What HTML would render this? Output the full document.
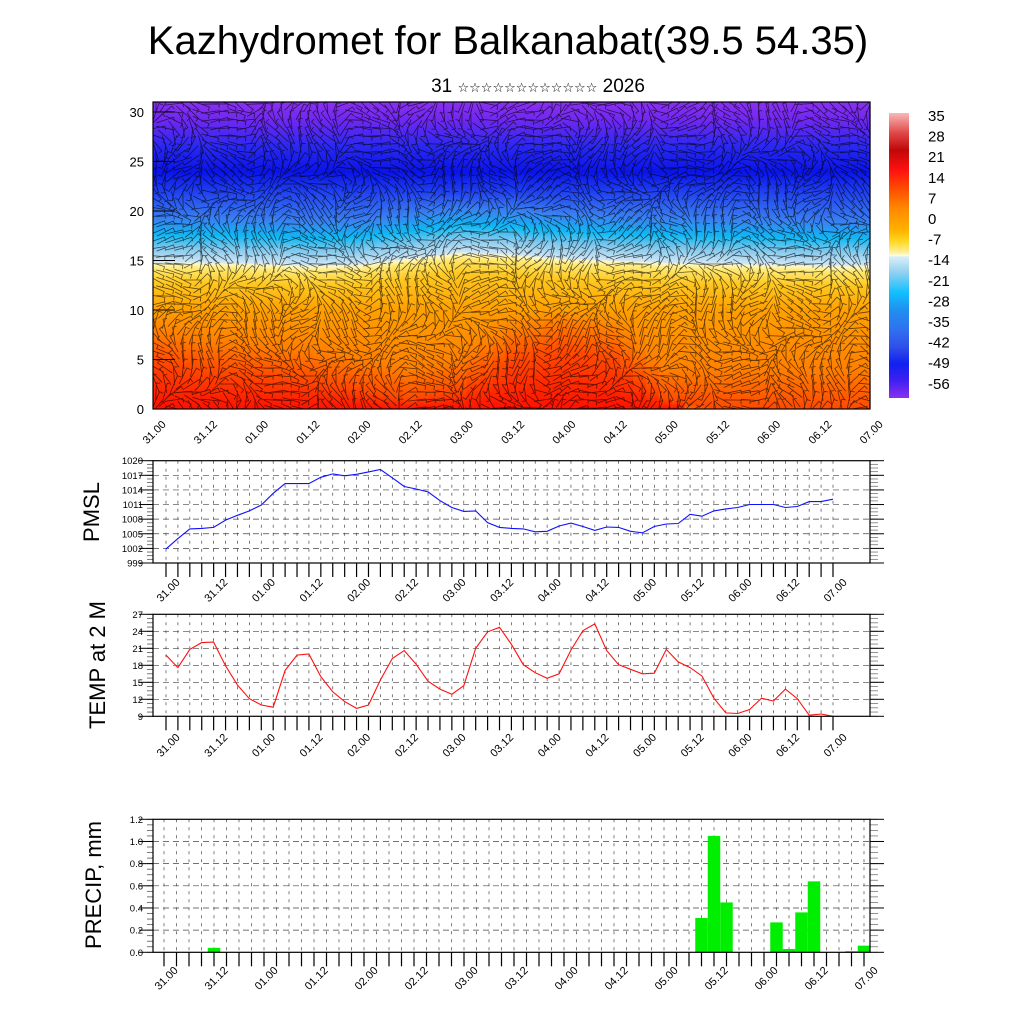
<!DOCTYPE html>
<html><head><meta charset="utf-8"><style>
html,body{margin:0;padding:0;background:#fff;}
svg{display:block;font-family:"Liberation Sans",Arial,sans-serif;}
</style></head><body>
<svg id="c" width="1024" height="1024" viewBox="0 0 1024 1024" xmlns="http://www.w3.org/2000/svg">
<text x="508" y="54" font-size="40" text-anchor="middle">Kazhydromet for Balkanabat(39.5 54.35)</text>
<text x="538" y="92" font-size="19" text-anchor="middle">31 <tspan font-size="13" font-family="DejaVu Sans">☆☆☆☆☆☆☆☆☆☆☆☆</tspan> 2026</text>
<defs>
<clipPath id="fclip"><rect x="153" y="102" width="717" height="307"/></clipPath>
<linearGradient id="cbg" x1="0" y1="0" x2="0" y2="1">
<stop offset="0" stop-color="#f9b8b8"/><stop offset="0.07" stop-color="#e04848"/><stop offset="0.13" stop-color="#c00808"/><stop offset="0.2" stop-color="#ff1010"/><stop offset="0.27" stop-color="#ff5000"/><stop offset="0.34" stop-color="#ff8c00"/><stop offset="0.41" stop-color="#ffb000"/><stop offset="0.45" stop-color="#ffd820"/><stop offset="0.49" stop-color="#fff0a0"/><stop offset="0.5" stop-color="#fffde0"/><stop offset="0.505" stop-color="#d8eef8"/><stop offset="0.56" stop-color="#90d0f0"/><stop offset="0.63" stop-color="#10c0ff"/><stop offset="0.69" stop-color="#2090f0"/><stop offset="0.76" stop-color="#3070f0"/><stop offset="0.82" stop-color="#3050e8"/><stop offset="0.88" stop-color="#1020f0"/><stop offset="0.94" stop-color="#4020f0"/><stop offset="1" stop-color="#8a30f0"/>
</linearGradient>
</defs>
<g id="field"></g>
<rect x="889" y="113" width="20" height="285" fill="url(#cbg)"/>
<g id="cbl" font-size="15"></g>
<g id="g1"></g>
<g id="g2"></g>
<g id="g3"></g>
<text transform="translate(99,512) rotate(-90)" font-size="22" text-anchor="middle">PMSL</text>
<text transform="translate(105,665) rotate(-90)" font-size="22" text-anchor="middle">TEMP at 2 M</text>
<text transform="translate(101,885) rotate(-90)" font-size="22" text-anchor="middle">PRECIP, mm</text>
</svg>
<script>
var timeLabels=["31.00","31.12","01.00","01.12","02.00","02.12","03.00","03.12","04.00","04.12","05.00","05.12","06.00","06.12","07.00"];
var pmslValues=[1001.9,1004,1006,1006.1,1006.3,1007.8,1008.8,1009.7,1010.9,1013.3,1015.3,1015.3,1015.3,1016.6,1017.3,1016.9,1017.2,1017.7,1018.2,1016.5,1014.7,1014.2,1013.6,1011.8,1010.4,1009.6,1009.7,1007.3,1006.3,1006.1,1006.0,1005.4,1005.5,1006.6,1007.2,1006.5,1005.7,1006.4,1006.3,1005.5,1005.2,1006.5,1007.0,1007.1,1009.0,1008.6,1009.7,1010.1,1010.4,1011.0,1011.0,1011.0,1010.4,1010.6,1011.6,1011.6,1012.1];
var tempValues=[19.8,17.6,20.8,22.0,22.1,17.9,14.5,12.1,11.0,10.6,17.1,19.8,20.0,16.0,13.3,11.6,10.4,11.0,15.4,19.2,20.6,18.2,15.2,13.8,12.9,14.4,21.0,23.9,24.7,21.7,18.1,16.7,15.7,16.5,20.7,24.1,25.3,20.6,18.1,17.3,16.5,16.6,20.8,18.6,17.6,16.1,12.2,9.6,9.5,10.2,12.2,11.7,13.8,12.1,9.2,9.4,9.0];
var precipIndex=[4,43,44,45,49,50,51,52,55,56];
var precipValues=[0.04,0.31,1.05,0.45,0.27,0.03,0.36,0.64,0.01,0.06];
var pmslTicks=[999,1002,1005,1008,1011,1014,1017,1020];
var tempTicks=[9,12,15,18,21,24,27];
var precipTicks=[0,0.2,0.4,0.6,0.8,1.0,1.2];
var fieldTicks=[0,5,10,15,20,25,30];
var colorbarLabels=["35","28","21","14","7","0","-7","-14","-21","-28","-35","-42","-49","-56"];
var boundaryAlt=[14.8,14.8,14.7,14.5,14.6,15.2,15.8,15.6,15.2,15,14.8,14.7,14.6,14.5,14.5];
var redTopAlt=[5,4,3.5,3,2,1,2,5,6,5,1,0,0,0,0];

var NS="http://www.w3.org/2000/svg";
function mk(tag,attrs,parent){var e=document.createElementNS(NS,tag);for(var k in attrs)e.setAttribute(k,attrs[k]);parent.appendChild(e);return e;}
var svg=document.getElementById('c');

var FX0=153,FX1=870,FY0=409,FYT=102;
function fy(a){return FY0-a*(FY0-112)/30;}
function fxh(h){return FX0+h*(FX1-FX0)/168;}
var field=document.getElementById('field');
var defs=svg.querySelector('defs');
function interp(arr,h){var p=h/12,i=Math.min(Math.floor(p),arr.length-2),t=p-i;return arr[i]*(1-t)+arr[i+1]*t;}
for(var k=0;k<57;k++){
  var h=k*3,b=interp(boundaryAlt,h),r=interp(redTopAlt,h);
  var stops=[[0,r>0.5?'#ff1000':'#ff6a00'],[Math.max(r,0.1),'#ff4a00'],[Math.max(r+3,4),'#ff8000'],[Math.max(10,r+4),'#ffa000'],[b-2,'#ffc820'],[b-0.6,'#ffe870'],[b-0.1,'#fff8c0'],[b+0.1,'#cfe6f5'],[b+1.5,'#80c8ee'],[b+2.8,'#10b8f4'],[b+4.5,'#3a80f0'],[22,'#2040f0'],[24,'#0a14e8'],[26.5,'#2828f0'],[29.3,'#7028f0'],[31.2,'#8a30f0']];
  var g=mk('linearGradient',{id:'fg'+k,gradientUnits:'userSpaceOnUse',x1:0,y1:FY0,x2:0,y2:FYT},defs);
  var last=-1;
  stops.forEach(function(s){var o=Math.max(s[0]/31.1,last);last=o;mk('stop',{offset:Math.min(o,1),'stop-color':s[1]},g);});
  var x0=Math.max(FX0,fxh(h-1.5)),x1=Math.min(FX1,fxh(h+1.5));
  var rc=mk('rect',{x:x0,y:FYT,width:x1-x0+0.6,height:FY0-FYT,fill:'url(#fg'+k+')'},field);
  
  
}
var bp=[];
for(var gx=156;gx<870;gx+=9){for(var gy=104;gy<409;gy+=8){
  var an=1.4*Math.sin(gx*0.029+gy*0.017)+Math.cos(gy*0.05-gx*0.012)+0.6*Math.sin(gx*0.11);
  var dx=Math.cos(an)*9,dy=Math.sin(an)*9;
  var ex=gx+dx,ey=gy+dy;
  bp.push('M'+(gx-dx).toFixed(1)+' '+(gy-dy).toFixed(1)+'L'+ex.toFixed(1)+' '+ey.toFixed(1)+'l'+(-dy*0.45).toFixed(1)+' '+(dx*0.45).toFixed(1));
}}
var bars=mk('path',{d:bp.join(''),stroke:'#000',fill:'none','stroke-width':0.8,'stroke-opacity':0.62,'clip-path':'url(#fclip)'},field);


var ff=mk('rect',{x:FX0,y:FYT,width:FX1-FX0,height:FY0-FYT,fill:'none',stroke:'#000','stroke-width':1.2},field);


fieldTicks.forEach(function(v){
  var t=mk('text',{x:144,y:fy(v)+5,'font-size':13,'text-anchor':'end'},field);t.textContent=v;
  
  
  mk('line',{x1:FX0,x2:FX0+22,y1:fy(v),y2:fy(v),stroke:'#000'},field);
});
timeLabels.forEach(function(s,i){
  var x=fxh(i*12)+1,y=432;
  var t=mk('text',{x:x,y:y+4,'font-size':11,'text-anchor':'middle',transform:'rotate(-45 '+x+' '+y+')'},field);t.textContent=s;
  
  
});
var cbl=document.getElementById('cbl');
colorbarLabels.forEach(function(s,i){
  var t=mk('text',{x:928,y:121+i*20.6},cbl);t.textContent=s;
  
  
});

function panel(gid,o){
  var g=document.getElementById(gid);
  var X0=153,X1=870;
  function X(h){return o.tx0+h*(o.tx1-o.tx0)/168;}
  function Y(v){return o.yb-(v-o.vmin)*(o.yb-o.yt)/(o.vmax-o.vmin);}
  for(var k=0;k<=56;k++){var x=X(k*3);
    if(x>X0&&x<X1)mk('line',{x1:x,x2:x,y1:o.yt,y2:o.yb,stroke:'#444','stroke-width':0.7,'stroke-dasharray':'3 5'},g);
    mk('line',{x1:x,x2:x,y1:o.yb,y2:o.yb+14,stroke:'#000','stroke-width':1.2},g);
  }
  var mstep=(o.ticks[1]-o.ticks[0])/4;
  for(var v=o.vmin;v<=o.vmax+1e-6;v+=mstep){var y=Y(v);
    mk('line',{x1:X0-6,x2:X0,y1:y,y2:y,stroke:'#555','stroke-width':0.8},g);
    mk('line',{x1:X1,x2:X1+8,y1:y,y2:y,stroke:'#777','stroke-width':0.8},g);
  }
  o.ticks.forEach(function(v,i){var y=Y(v);
    if(i>0&&i<o.ticks.length-1)mk('line',{x1:X0,x2:X1,y1:y,y2:y,stroke:'#444','stroke-width':0.7,'stroke-dasharray':'6 4'},g);
    mk('line',{x1:X0-14,x2:X0,y1:y,y2:y,stroke:'#000'},g);
    mk('line',{x1:X1,x2:X1+14,y1:y,y2:y,stroke:'#000'},g);
    var t=mk('text',{x:X0-10,y:y+3.5,'font-size':o.fs,'text-anchor':'end'},g);t.textContent=o.fmt(v);
    
    
  });
  o.draw(g,X,Y);
  var fr=mk('rect',{x:X0,y:o.yt,width:X1-X0,height:o.yb-o.yt,fill:'none',stroke:'#000','stroke-width':1.2},g);
  
  
  timeLabels.forEach(function(s,i){
    var x=X(i*12)+2,y=o.ly;
    var t=mk('text',{x:x,y:y+4,'font-size':11,'text-anchor':'middle',transform:'rotate(-45 '+x+' '+y+')'},g);t.textContent=s;
    
    
  });
}
panel('g1',{tx0:166,tx1:833,yt:460.7,yb:563,vmin:999,vmax:1020,ticks:pmslTicks,fs:9.5,ly:590,fmt:function(v){return v;},
  draw:function(g,X,Y){var p=pmslValues.map(function(v,i){return X(i*3).toFixed(1)+','+Y(v).toFixed(1);}).join(' ');
    var l=mk('polyline',{points:p,fill:'none',stroke:'#1010ff','stroke-width':1.1},g);
    
    }});
panel('g2',{tx0:166,tx1:833,yt:614.3,yb:716.3,vmin:9,vmax:27,ticks:tempTicks,fs:9.5,ly:745,fmt:function(v){return v;},
  draw:function(g,X,Y){var p=tempValues.map(function(v,i){return X(i*3).toFixed(1)+','+Y(v).toFixed(1);}).join(' ');
    var l=mk('polyline',{points:p,fill:'none',stroke:'#ff1010','stroke-width':1.1},g);
    
    }});
panel('g3',{tx0:164,tx1:864,yt:819.3,yb:952.3,vmin:0,vmax:1.2,ticks:precipTicks,fs:9.5,ly:978,fmt:function(v){return v.toFixed(1);},
  draw:function(g,X,Y){var w=X(3)-X(0);
    precipValues.forEach(function(v,i){var xc=X(precipIndex[i]*3);
      var r=mk('rect',{x:xc-w/2,y:Y(v),width:w,height:Y(0)-Y(v),fill:'#00ee00'},g);
      
      });}});
</script>
</body></html>
